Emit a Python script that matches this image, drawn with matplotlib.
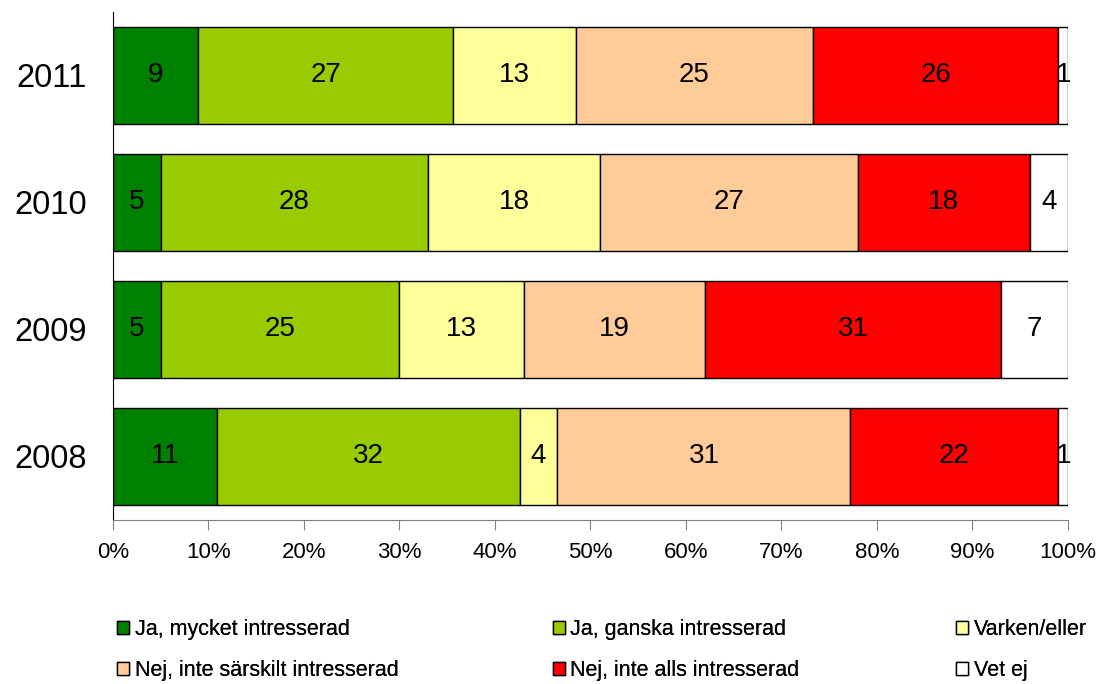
import numpy as np
import matplotlib.pyplot as plt

plt.rcParams['font.family'] = ['Liberation Sans', 'DejaVu Sans']

years = ['2008', '2009', '2010', '2011']
categories = ['Ja, mycket intresserad', 'Ja, ganska intresserad', 'Varken/eller',
              'Nej, inte särskilt intresserad', 'Nej, inte alls intresserad', 'Vet ej']
# values per category, ordered as years (2008..2011)
mycket = [11, 5, 5, 9]
ganska = [32, 25, 28, 27]
varken = [4, 13, 18, 13]
sarskilt = [31, 19, 27, 25]
alls = [22, 31, 18, 26]
vetej = [1, 7, 4, 1]
colors = ['#008000', '#99CC00', '#FFFF99', '#FFCC99', '#FF0000', '#FFFFFF']

series = np.array([mycket, ganska, varken, sarskilt, alls, vetej], dtype=float)
share = series / series.sum(axis=0) * 100

fig = plt.figure(figsize=(11.15, 6.84), dpi=100)
ax = fig.add_axes([0.1013, 0.2398, 0.8565, 0.7427])

y = np.arange(len(years))
left = np.zeros(len(years))
handles = []
for i in range(len(categories)):
    b = ax.barh(y, share[i], left=left, height=0.765, color=colors[i],
                edgecolor='black', linewidth=1, label=categories[i])
    handles.append(b)
    for j in range(len(years)):
        ax.text(left[j] + share[i][j] / 2, y[j], f'{int(series[i][j])}',
                ha='center', va='center', fontsize=20)
    left += share[i]

ax.set_xlim(0, 100)
ax.set_ylim(-0.5, 3.5)
ax.set_xticks(np.arange(0, 101, 10))
ax.set_xticklabels([f'{v}%' for v in range(0, 101, 10)], fontsize=16)
ax.set_yticks(y)
ax.set_yticklabels(years, fontsize=23.5)
ax.tick_params(axis='y', length=0, pad=19)
ax.tick_params(axis='x', length=7, direction='out', pad=9, color='#808080')
ax.spines['top'].set_visible(False)
ax.spines['right'].set_visible(False)
ax.spines['bottom'].set_color('#808080')

# legend: three columns, two rows
col_x = [0.0975, 0.488, 0.850]
for c in range(3):
    hs = [handles[c], handles[c + 3]]
    lg = fig.legend(hs, [categories[c], categories[c + 3]], loc='upper left',
                    bbox_to_anchor=(col_x[c], 0.107), frameon=False, fontsize=15.5,
                    handlelength=0.55, handleheight=0.55, handletextpad=0.25,
                    labelspacing=0.9, borderaxespad=0)
    fig.add_artist(lg)

fig.savefig('out.png', dpi=100)
